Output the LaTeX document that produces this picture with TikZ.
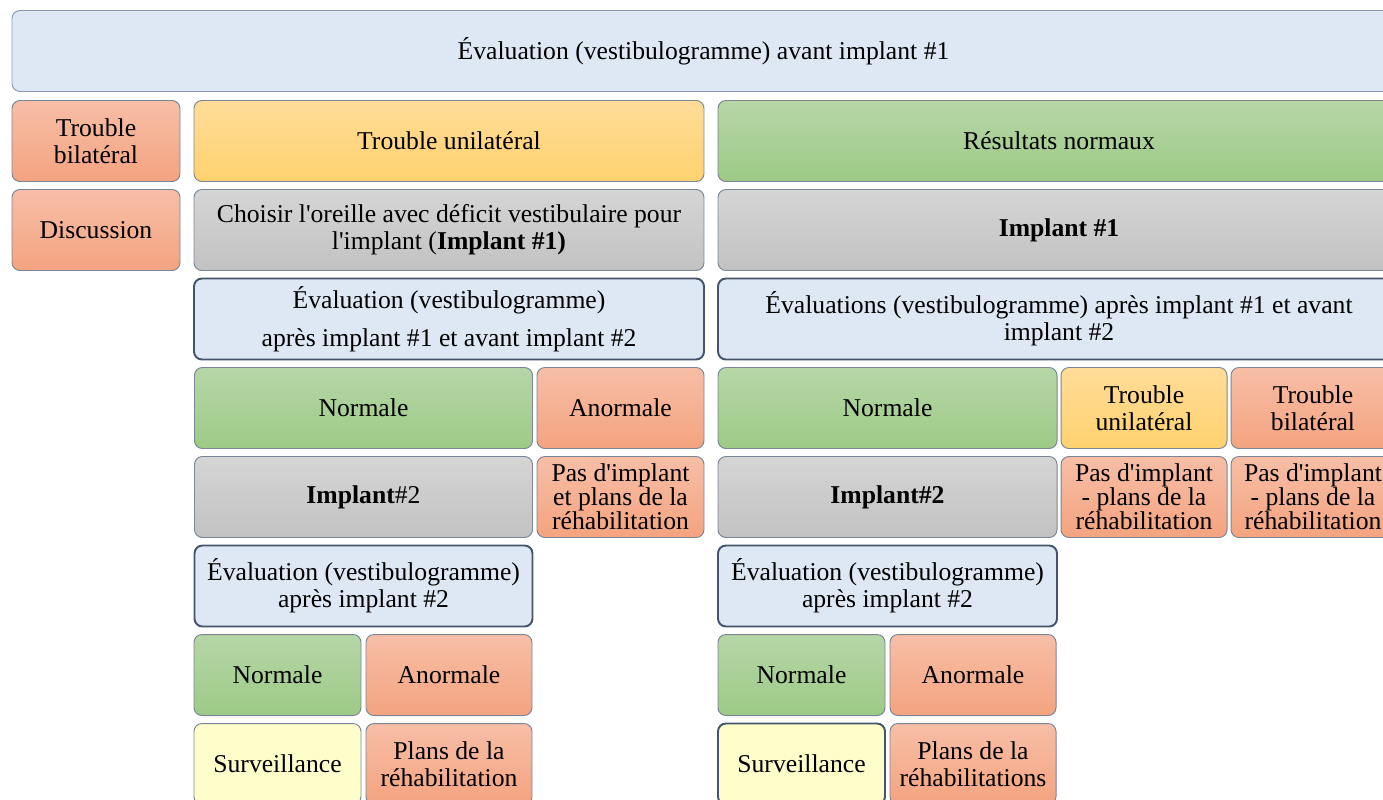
\documentclass[tikz,border=0pt]{standalone}
\usepackage{fontspec}
\setmainfont{Liberation Serif}
\definecolor{evalblue}{HTML}{DEE8F4}
\definecolor{topline}{HTML}{8C9BB0}
\definecolor{evalline}{HTML}{44546A}
\definecolor{cellline}{HTML}{7A8698}
\definecolor{redtop}{HTML}{F7BEA7}
\definecolor{redbot}{HTML}{F4A37F}
\definecolor{yellowtop}{HTML}{FFDC98}
\definecolor{yellowbot}{HTML}{FFD26F}
\definecolor{greentop}{HTML}{B6D6A7}
\definecolor{greenbot}{HTML}{9DCA86}
\definecolor{graytop}{HTML}{D5D5D5}
\definecolor{graybot}{HTML}{C2C2C2}
\definecolor{paleyellow}{HTML}{FFFDCA}
\newcommand{\apos}{\textquotesingle}
\begin{document}
\begin{tikzpicture}[font=\fontsize{14.6}{15.3}\selectfont,line width=0.55pt,
  cell/.style={draw=cellline,rounded corners=4.5pt,align=center,
               inner sep=2pt,minimum height=1.62cm},
  evalbox/.style={cell,draw=evalline,line width=1.1pt,fill=evalblue},
  redbox/.style={cell,top color=redtop,bottom color=redbot},
  yellowbox/.style={cell,top color=yellowtop,bottom color=yellowbot},
  greenbox/.style={cell,top color=greentop,bottom color=greenbot},
  graybox/.style={cell,top color=graytop,bottom color=graybot},
  survbox/.style={cell,fill=paleyellow},
  colA/.style={minimum width=3.36cm},
  colB/.style={minimum width=10.2cm},
  colC/.style={minimum width=13.64cm},
  colBa/.style={minimum width=6.76cm},
  colBb/.style={minimum width=3.34cm},
  colCa/.style={minimum width=6.78cm},
  colCb/.style={minimum width=3.32cm},
  colCc/.style={minimum width=3.28cm},
  halfa/.style={minimum width=3.34cm},
  halfb/.style={minimum width=3.32cm}]
  \clip (0,0) rectangle (27.66,-15.98);
  % top row
  \node[cell,draw=topline,fill=evalblue,minimum width=27.66cm] (top) at (14.07,-1.02)
    {Évaluation (vestibulogramme) avant implant \#1};
  % left column
  \node[redbox,colA] (bilat) at (1.92,-2.82) {Trouble\\bilatéral};
  \node[redbox,colA] (disc) at (1.92,-4.60) {Discussion};
  % unilateral branch
  \node[yellowbox,colB] (unil) at (8.98,-2.82) {Trouble unilatéral};
  \node[graybox,colB] (choisir) at (8.98,-4.60)
    {Choisir l\apos oreille avec déficit vestibulaire pour\\
     l\apos implant (\textbf{Implant \#1)}};
  \node[evalbox,colB] (evalL) at (8.98,-6.38)
    {Évaluation (vestibulogramme)\\[6pt] après implant \#1 et avant implant \#2};
  \node[greenbox,colBa] (normL) at (7.27,-8.16) {Normale};
  \node[redbox,colBb] (anormL) at (12.41,-8.16) {Anormale};
  \node[graybox,colBa] (implL) at (7.27,-9.94) {\textbf{Implant}\#2};
  \node[redbox,colBb,font=\fontsize{14.6}{13.6}\selectfont] (pasL) at (12.41,-9.94)
    {Pas d\apos implant\\et plans de la\\réhabilitation};
  \node[evalbox,colBa] (evalL2) at (7.27,-11.72)
    {Évaluation (vestibulogramme)\\après implant \#2};
  \node[greenbox,halfa] (normL2) at (5.55,-13.50) {Normale};
  \node[redbox,halfb] (anormL2) at (8.98,-13.50) {Anormale};
  \node[survbox,halfa] (survL) at (5.55,-15.28) {Surveillance};
  \node[redbox,halfb] (plansL) at (8.98,-15.28) {Plans de la\\réhabilitation};
  % normal branch
  \node[greenbox,colC] (normaux) at (21.18,-2.82) {Résultats normaux};
  \node[graybox,colC] (implR1) at (21.18,-4.60) {\textbf{Implant \#1}};
  \node[evalbox,colC] (evalR) at (21.18,-6.38)
    {Évaluations (vestibulogramme) après implant \#1 et avant\\implant \#2};
  \node[greenbox,colCa] (normR) at (17.75,-8.16) {Normale};
  \node[yellowbox,colCb] (unilR) at (22.88,-8.16) {Trouble\\unilatéral};
  \node[redbox,colCc] (bilatR) at (26.26,-8.16) {Trouble\\bilatéral};
  \node[graybox,colCa] (implR) at (17.75,-9.94) {\textbf{Implant\#2}};
  \node[redbox,colCb,font=\fontsize{14.6}{13.6}\selectfont] (pasR1) at (22.88,-9.94)
    {Pas d\apos implant\\- plans de la\\réhabilitation};
  \node[redbox,colCc,font=\fontsize{14.6}{13.6}\selectfont] (pasR2) at (26.26,-9.94)
    {Pas d\apos implant\\- plans de la\\réhabilitation};
  \node[evalbox,colCa] (evalR2) at (17.75,-11.72)
    {Évaluation (vestibulogramme)\\après implant \#2};
  \node[greenbox,halfa] (normR2) at (16.03,-13.50) {Normale};
  \node[redbox,halfb] (anormR2) at (19.46,-13.50) {Anormale};
  \node[survbox,halfa,draw=evalline,line width=1.1pt] (survR) at (16.03,-15.28) {Surveillance};
  \node[redbox,halfb] (plansR) at (19.46,-15.28) {Plans de la\\réhabilitations};
\end{tikzpicture}
\end{document}
